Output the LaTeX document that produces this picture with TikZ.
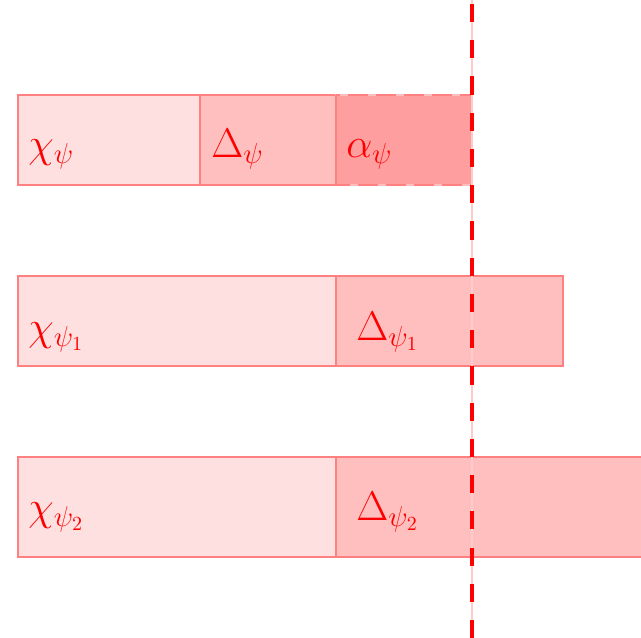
\documentclass[tikz,border=0pt]{standalone}
\begin{document}
\begin{tikzpicture}[x=0.5pt,y=-0.5pt,
  chibox/.style={draw=red!50, fill=red!12, line width=1.4pt},
  delbox/.style={draw=red!50, fill=red!25, line width=1.4pt},
  alpbox/.style={draw=red!25, fill=red!38, line width=1.4pt},
  alpdash/.style={draw=red!50, line width=1.4pt, dash pattern=on 10pt off 4pt},
  lab/.style={anchor=base west, inner sep=0pt, text=red, font=\fontsize{19.3}{23}\selectfont}]
\useasboundingbox (0,0) rectangle (641,637);
\clip (0,0) rectangle (641,637);
% row 1
\draw[chibox] (18,95) rectangle (200,185);
\draw[delbox] (200,95) rectangle (336,185);
\draw[alpbox] (336,95) rectangle (472,185);
\draw[alpdash] (336,95) rectangle (472,185);
\draw[red!50, line width=1.4pt] (336,95) -- (336,185);
\node[lab] (c0) at (28,157) {$\chi_\psi$};
\node[lab] (d0) at (211,157) {$\Delta_\psi$};
\node[lab] (a0) at (346,157) {$\alpha_\psi$};
% row 2
\draw[chibox] (18,276) rectangle (336,366);
\draw[delbox] (336,276) rectangle (563,366);
\node[lab] (c1) at (28,340) {$\chi_{\psi_1}$};
\node[lab] (d1) at (356,340) {$\Delta_{\psi_1}$};
% row 3
\draw[chibox] (18,457) rectangle (336,557);
\draw[delbox] (336,457) rectangle (660,557);
\node[lab] (c2) at (28,520) {$\chi_{\psi_2}$};
\node[lab] (d2) at (356,520) {$\Delta_{\psi_2}$};
% vertical dashed line
\coordinate (top) at (472,0);
\coordinate (dtop) at (472,4);
\coordinate (bot) at (472,640);
\draw[red!20, line width=0.6pt] (top) -- (bot);
\draw[red, line width=1.6pt, dash pattern=on 9.06pt off 9.06pt] (dtop) -- (bot);
\end{tikzpicture}
\end{document}
